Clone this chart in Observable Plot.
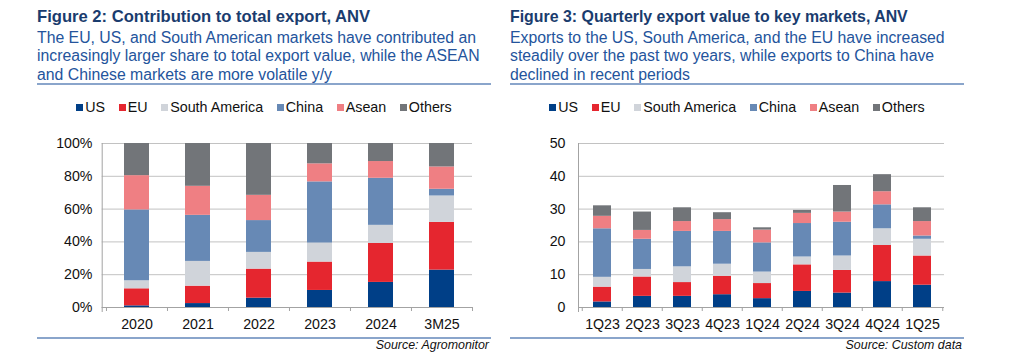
<!DOCTYPE html>
<html><head><meta charset="utf-8">
<script src="https://cdn.jsdelivr.net/npm/d3@7"></script>
<script src="https://cdn.jsdelivr.net/npm/@observablehq/plot@0.6"></script>
<style>
html,body{margin:0;padding:0;background:#fff;}
body{width:1024px;height:358px;position:relative;overflow:hidden;font-family:"Liberation Sans",Arial,sans-serif;}
.panel{position:absolute;top:0;width:454px;height:358px;}
.title{position:absolute;left:0;top:8px;font-size:16.6px;line-height:18px;font-weight:bold;color:#1a3c6e;white-space:nowrap;}
.sub{position:absolute;left:0;top:28.6px;font-size:15.8px;line-height:18.5px;color:#24549c;white-space:nowrap;}
.rule{position:absolute;left:0;width:454px;height:2px;background:#8aa5cb;}
.legend{position:absolute;left:0;width:454px;top:99px;display:flex;justify-content:center;font-size:14.3px;line-height:16px;color:#111;white-space:nowrap;}
.legend .item{display:inline-flex;align-items:center;margin:0 6.8px;}
.legend .sw{width:7px;height:7px;margin-right:2px;display:inline-block;}
.chart{position:absolute;left:0;top:130px;}
.source{position:absolute;right:2px;top:338px;font-size:12.4px;font-style:italic;color:#111;white-space:nowrap;}
</style>
</head><body>
<script>
// ---- data ----
const series = ["US", "EU", "South America", "China", "Asean", "Others"];
const seriesColors = ["#003f87", "#e5262f", "#d0d4da", "#6789b5", "#ef7f83", "#727579"];

const years = ["2020", "2021", "2022", "2023", "2024", "3M25"];
const shareUS     = [1.0, 2.4, 5.7, 10.4, 15.3, 22.8];
const shareEU     = [10.4, 10.6, 17.7, 17.3, 23.8, 29.1];
const shareSA     = [4.9, 15.1, 10.2, 11.6, 11.0, 16.1];
const shareChina  = [43.2, 28.1, 19.4, 37.3, 28.7, 4.1];
const shareAsean  = [20.9, 17.7, 15.4, 11.0, 10.2, 13.6];
const shareOthers = [19.6, 26.1, 31.6, 12.4, 11.0, 14.3];
const shareTicks = [0, 20, 40, 60, 80, 100];

const quarters = ["1Q23", "2Q23", "3Q23", "4Q23", "1Q24", "2Q24", "3Q24", "4Q24", "1Q25"];
const valUS     = [1.7, 3.4, 3.4, 3.9, 2.7, 4.9, 4.4, 7.9, 6.8];
const valEU     = [4.5, 5.9, 4.2, 5.6, 4.6, 8.1, 6.9, 11.0, 8.9];
const valSA     = [3.0, 2.3, 4.8, 3.7, 3.5, 2.4, 4.4, 5.1, 5.1];
const valChina  = [14.8, 9.2, 10.8, 10.0, 8.9, 10.2, 10.3, 7.3, 1.0];
const valAsean  = [3.8, 2.7, 3.0, 3.6, 3.9, 3.1, 3.1, 4.0, 4.4];
const valOthers = [3.2, 5.6, 4.2, 2.1, 0.7, 0.9, 8.1, 5.2, 4.2];
const valueTicks = [0, 10, 20, 30, 40, 50];

function tidy(cats, cols) {
  const rows = [];
  series.forEach((s, si) => cats.forEach((c, ci) => rows.push({cat: c, series: s, value: cols[si][ci]})));
  return rows;
}

function makeChart({cats, rows, ticks, fmt, marginLeft, marginRight, axisShift, tickPadding, xPad}) {
  const width = 454, height = 212, marginTop = 13, marginBottom = 35;
  const step = (width - marginLeft - marginRight) / cats.length;
  return Plot.plot({
    width, height, marginTop, marginBottom, marginLeft, marginRight,
    style: {fontFamily: "'Liberation Sans', Arial, sans-serif", fontSize: "14.2px", color: "#111", background: "transparent"},
    x: {domain: cats, paddingInner: xPad, paddingOuter: xPad / 2, label: null},
    y: {domain: [ticks[0], ticks[ticks.length - 1]], label: null},
    color: {domain: series, range: seriesColors},
    marks: [
      Plot.ruleY(ticks, {stroke: "#c2c2c2", strokeWidth: 1, insetLeft: -axisShift}),
      Plot.barY(rows, {x: "cat", y: "value", fill: "series"}),
      Plot.ruleY([0], {stroke: "#a3a3a3", insetLeft: -axisShift}),
      Plot.ruleX(cats, {x: d => d, y1: 0, y2: 0, insetTop: 4, dx: -step / 2, stroke: "#a3a3a3"}),
      Plot.ruleX(cats.slice(-1), {x: d => d, y1: 0, y2: 0, insetTop: 4, dx: step / 2, stroke: "#a3a3a3"}),
      Plot.frame({anchor: "left", stroke: "#a3a3a3", dx: -axisShift, insetBottom: -4}),
      Plot.axisY({ticks, tickSize: 0, tickPadding, tickFormat: fmt}),
      Plot.axisX({tickSize: 0, tickPadding: 11.5})
    ]
  });
}

function legend() {
  const d = document.createElement("div");
  d.className = "legend";
  series.forEach((s, i) => {
    const it = document.createElement("span");
    it.className = "item";
    const sw = document.createElement("span");
    sw.className = "sw";
    sw.style.background = seriesColors[i];
    it.appendChild(sw);
    it.appendChild(document.createTextNode(s));
    d.appendChild(it);
  });
  return d;
}

function panel({left, title, titleSize, subLines, chart, source}) {
  const p = document.createElement("div");
  p.className = "panel";
  p.style.left = left + "px";
  const t = document.createElement("div"); t.className = "title"; t.textContent = title;
  t.style.fontSize = titleSize + "px"; p.appendChild(t);
  const s = document.createElement("div"); s.className = "sub";
  subLines.forEach((l, i) => { if (i) s.appendChild(document.createElement("br")); s.appendChild(document.createTextNode(l)); });
  p.appendChild(s);
  const r1 = document.createElement("div"); r1.className = "rule"; r1.style.top = "83px"; p.appendChild(r1);
  p.appendChild(legend());
  const c = document.createElement("div"); c.className = "chart"; c.appendChild(chart); p.appendChild(c);
  const r2 = document.createElement("div"); r2.className = "rule"; r2.style.top = "337px"; p.appendChild(r2);
  const src = document.createElement("div"); src.className = "source"; src.textContent = source; p.appendChild(src);
  document.body.appendChild(p);
}

panel({
  left: 37,
  title: "Figure 2: Contribution to total export, ANV",
  titleSize: 16.6,
  subLines: [
    "The EU, US, and South American markets have contributed an",
    "increasingly larger share to total export value, while the ASEAN",
    "and Chinese markets are more volatile y/y"
  ],
  chart: makeChart({
    cats: years,
    rows: tidy(years, [shareUS, shareEU, shareSA, shareChina, shareAsean, shareOthers]),
    ticks: shareTicks, fmt: d => d + "%",
    marginLeft: 68.7, marginRight: 19, axisShift: 4, tickPadding: 13.7, xPad: 0.59
  }),
  source: "Source: Agromonitor"
});

panel({
  left: 510,
  title: "Figure 3: Quarterly export value to key markets, ANV",
  titleSize: 15.9,
  subLines: [
    "Exports to the US, South America, and the EU have increased",
    "steadily over the past two years, while exports to China have",
    "declined in recent periods"
  ],
  chart: makeChart({
    cats: quarters,
    rows: tidy(quarters, [valUS, valEU, valSA, valChina, valAsean, valOthers]),
    ticks: valueTicks, fmt: d => String(d),
    marginLeft: 69.5, marginRight: 20, axisShift: 1.5, tickPadding: 14.5, xPad: 0.55
  }),
  source: "Source: Custom data"
});
</script>
</body></html>
